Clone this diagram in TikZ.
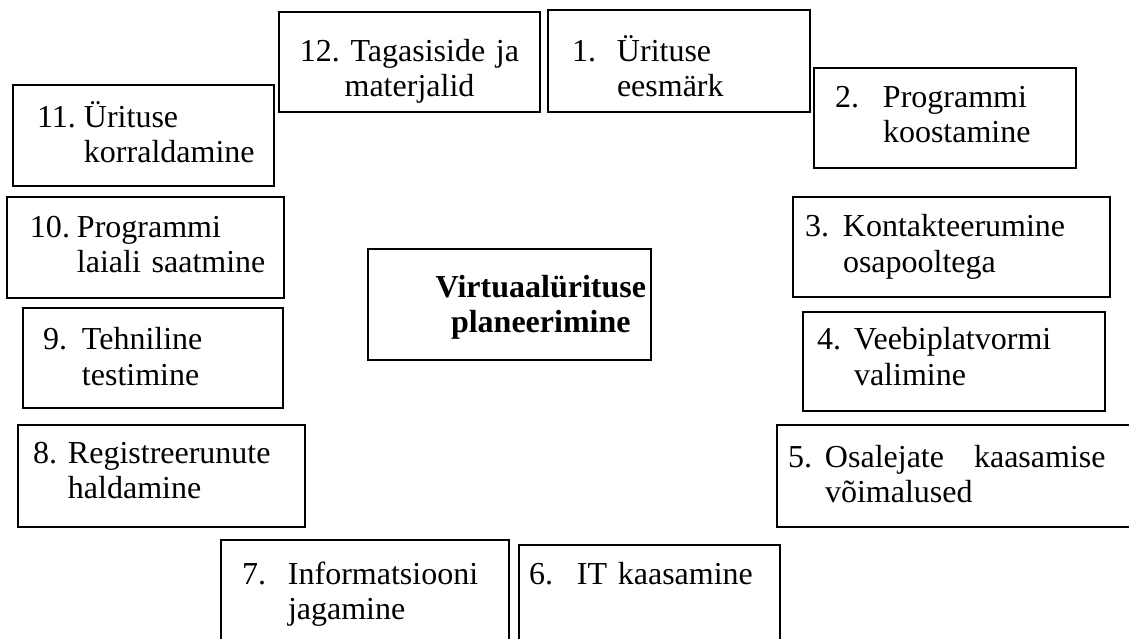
\documentclass[tikz,border=0pt]{standalone}
\usepackage{fontspec}
\setmainfont{Liberation Serif}
\frenchspacing
\newlength\pxu
\setlength\pxu{0.4pt}
\newcommand\StepText[4]{\makebox[#1\pxu][l]{#2}\mbox{#3}\\\hspace*{#1\pxu}\mbox{#4}}

\begin{document}
\begin{tikzpicture}[x=0.4pt, y=-0.4pt,
BoxStyle/.style={draw, line width=0.7pt, inner ysep=0pt, outer sep=0pt,
                anchor=base west, align=left,
                font=\fontsize{12.8pt}{14pt}\selectfont},
BoxGeom/.style n args={4}{inner xsep=#1\pxu, text width=#2\pxu,
                text height=#3\pxu, text depth=#4\pxu},]
\useasboundingbox (0,0) rectangle (1129,639);
% top row
\node [BoxStyle, BoxGeom={0}{261}{50}{50}, align=center] (s12) at (279,62)
      {12. Tagasiside ja\\materjalid};
\node [BoxStyle, BoxGeom={24}{214}{52}{50}] (s1) at (548,62)
      {\StepText{45}{1.}{Ürituse}{eesmärk}};
% right column
\node [BoxStyle, BoxGeom={21}{220}{40}{60}] (s2) at (814,108)
      {\StepText{48}{2.}{Programmi}{koostamine}};
\node [BoxStyle, BoxGeom={12}{293}{40}{60}] (s3) at (793,237)
      {\StepText{38}{3.}{Kontakteerumine}{osapooltega}};
\node [BoxStyle, BoxGeom={14}{274}{38}{61}] (s4) at (803,350)
      {\StepText{37}{4.}{Veebiplatvormi}{valimine}};
\node [BoxStyle, BoxGeom={11}{332}{42}{60}] (s5) at (777,467)
      {\StepText{37}{5.}{Osalejate\hspace{30\pxu}kaasamise}{võimalused}};
% bottom row
\node [BoxStyle, BoxGeom={10}{241}{39}{76}] (s6) at (519,584)
      {\makebox[48\pxu][l]{6.}IT kaasamine};
\node [BoxStyle, BoxGeom={21}{246}{44}{76}] (s7) at (221,584)
      {\StepText{46}{7.}{Informatsiooni}{jagamine}};
% left column
\node [BoxStyle, BoxGeom={15}{257}{38}{64}] (s8) at (18,463)
      {\StepText{35}{8.}{Registreerunute}{haldamine}};
\node [BoxStyle, BoxGeom={20}{220}{42}{58}] (s9) at (23,350)
      {\StepText{39}{9.}{Tehniline}{testimine}};
\node [BoxStyle, BoxGeom={23}{231}{41}{60}] (s10) at (7,238)
      {\StepText{47}{10.}{Programmi}{laiali saatmine}};
\node [BoxStyle, BoxGeom={24}{213}{43}{58}] (s11) at (13,128)
      {\StepText{47}{11.}{Ürituse}{korraldamine}};
% centre
\node [BoxStyle, BoxGeom={5}{273}{49}{62}, align=right] (centre) at (368,298)
      {\bfseries\begin{tabular}[t]{@{}c@{}}Virtuaalürituse\\planeerimine\end{tabular}};
\end{tikzpicture}
\end{document}
